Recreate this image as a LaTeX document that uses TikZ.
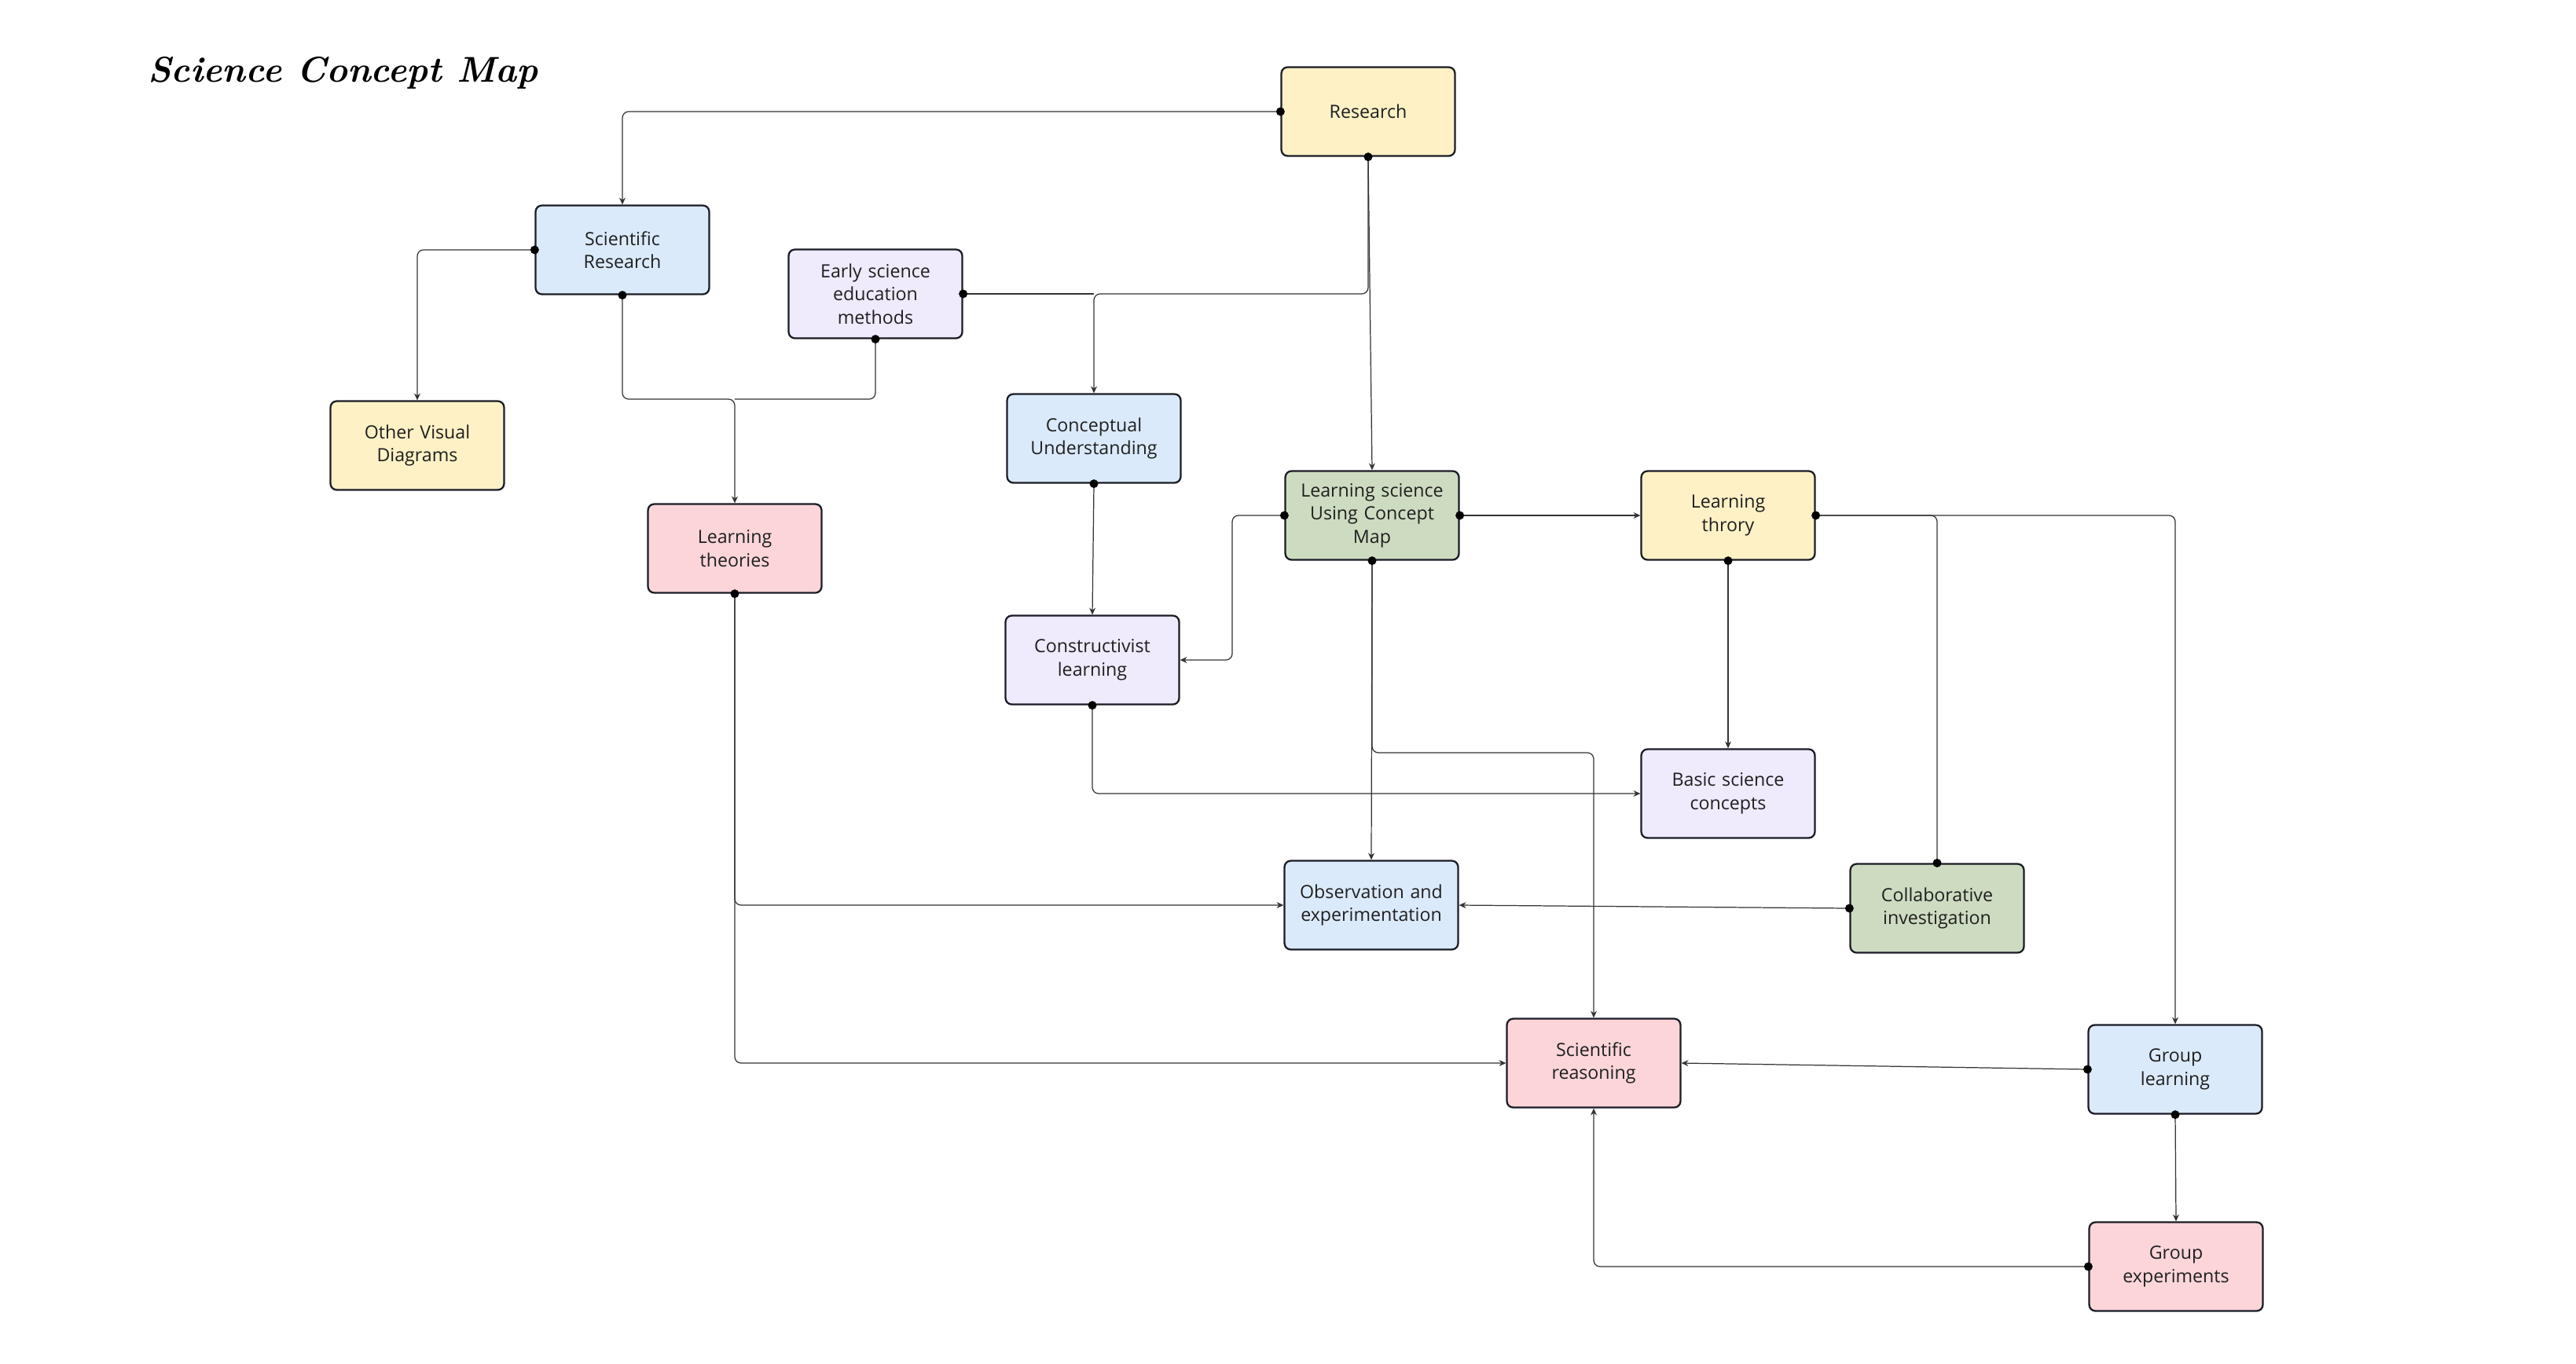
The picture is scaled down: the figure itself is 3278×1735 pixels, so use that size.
\documentclass[tikz,border=0pt]{standalone}
\usepackage{fontspec}
\setmainfont{Open Sans}
\newfontfamily\titlefont{Latin Modern Roman}
\usetikzlibrary{arrows.meta,calc}
\definecolor{cyel}{HTML}{FEF1C6}
\definecolor{cblu}{HTML}{DBEAFB}
\definecolor{clav}{HTML}{EFEAFC}
\definecolor{cgrn}{HTML}{CDDCC1}
\definecolor{cpnk}{HTML}{FBD5D8}
\definecolor{cbrd}{HTML}{1B1D26}
\definecolor{cln}{HTML}{333333}
\tikzset{
  box/.style={draw=cbrd, line width=1.3pt, rounded corners=0.16cm,
    minimum width=4.42cm, minimum height=2.26cm, inner sep=2pt,
    align=center, text width=4.2cm, font=\fontsize{13.2}{16.8}\selectfont, text=black!88},
  yel/.style={box, fill=cyel},
  blu/.style={box, fill=cblu},
  lav/.style={box, fill=clav},
  grn/.style={box, fill=cgrn},
  pnk/.style={box, fill=cpnk},
  conn/.style={draw=cln, line width=0.7pt, rounded corners=0.16cm},
  arr/.style={conn, -{Stealth[length=5pt,width=4.5pt]}},
}
\newcommand{\srcdot}[1]{\fill[black] (#1) circle (0.11cm);}
\begin{document}
\begin{tikzpicture}[x=0.02cm,y=-0.02cm]
\useasboundingbox[fill=white] (0,0) rectangle (3278,1735);
\node[anchor=west, font=\titlefont\itshape\bfseries\fontsize{26}{30}\selectfont] (title) at (182,93) {Science Concept Map};

\node[yel] (research) at (1741,142) {Research};
\node[blu] (sciRes) at (792,318) {Scientific\\Research};
\node[lav] (early) at (1114,374) {Early science\\education\\methods};
\node[yel] (other) at (531,567) {Other Visual\\Diagrams};
\node[blu] (concept) at (1392,558) {Conceptual\\Understanding};
\node[pnk] (lth) at (935,698) {Learning\\theories};
\node[grn] (lsc) at (1746,656) {Learning science\\Using Concept\\Map};
\node[yel] (lthr) at (2199,656) {Learning\\throry};
\node[lav] (constr) at (1390,840) {Constructivist\\learning};
\node[lav] (basic) at (2199,1010) {Basic science\\concepts};
\node[blu] (obs) at (1745,1152) {Observation and\\experimentation};
\node[grn] (collab) at (2465,1156) {Collaborative\\investigation};
\node[pnk] (reason) at (2028,1353) {Scientific\\reasoning};
\node[blu] (glearn) at (2768,1361) {Group\\learning};
\node[pnk] (gexp) at (2769,1612) {Group\\experiments};

\coordinate (j1) at (concept.north |- early.east);
\coordinate (j2) at (935,508);
\coordinate (j3) at (1568,656);
\coordinate (j4) at (1568,840);
\coordinate (j5) at (1746,958);
\coordinate (j6) at (collab.north |- lthr.east);

% connectors
\draw[arr] (research.west) -| (sciRes.north);
\draw[arr] (research.south) |- (j1) -- (concept.north);
\draw[conn] (early.east) -- (j1);
\draw[arr] (research.south) -- (lsc.north);
\draw[arr] (sciRes.west) -| (other.north);
\draw[arr] (sciRes.south) |- (j2) -- (lth.north);
\draw[conn] (early.south) |- (j2);
\draw[arr] (concept.south) -- (constr.north);
\draw[arr] (lsc.west) -- (j3) -- (j4) -- (constr.east);
\draw[arr] (lsc.east) -- (lthr.west);
\draw[arr] (lsc.south) -- (obs.north);
\draw[arr] (lsc.south) -- (j5) -| (reason.north);
\draw[arr] (lthr.south) -- (basic.north);
\draw[arr] (lthr.east) -| (glearn.north);
\draw[conn] (collab.north) -- (j6) -- (lthr.east);
\draw[arr] (constr.south) |- (basic.west);
\draw[arr] (lth.south) |- (obs.west);
\draw[arr] (lth.south) |- (reason.west);
\draw[arr] (collab.west) -- (obs.east);
\draw[arr] (glearn.west) -- (reason.east);
\draw[arr] (glearn.south) -- (gexp.north);
\draw[arr] (gexp.west) -| (reason.south);

% start dots
\srcdot{research.west}
\srcdot{research.south}
\srcdot{early.east}
\srcdot{early.south}
\srcdot{sciRes.west}
\srcdot{sciRes.south}
\srcdot{concept.south}
\srcdot{lsc.west}
\srcdot{lsc.east}
\srcdot{lsc.south}
\srcdot{lthr.south}
\srcdot{lthr.east}
\srcdot{collab.north}
\srcdot{collab.west}
\srcdot{constr.south}
\srcdot{lth.south}
\srcdot{glearn.west}
\srcdot{glearn.south}
\srcdot{gexp.west}
\end{tikzpicture}
\end{document}
